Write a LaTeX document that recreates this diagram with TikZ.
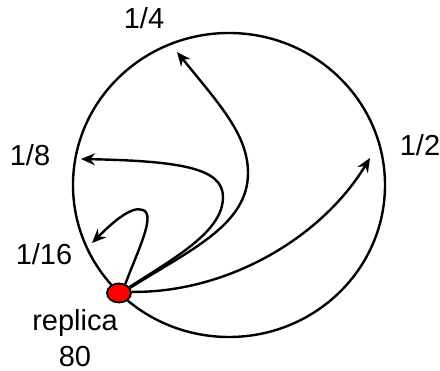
\documentclass[tikz,border=0pt]{standalone}
\usepackage{fontspec}
\setmainfont{Liberation Sans}
\usetikzlibrary{arrows.meta,shapes.geometric}
\begin{document}
\begin{tikzpicture}[x=1pt,y=-1pt,
  ring/.style={line width=2.4pt},
  link/.style={line width=2.4pt,-{Stealth[length=14pt,width=12pt]}},
  lbl/.style={font=\fontsize{29}{36}\selectfont,inner sep=0pt,align=center},
  replica/.style={ellipse,draw=black,line width=1.8pt,fill=red,minimum width=24pt,minimum height=19pt,inner sep=0pt}]
\useasboundingbox (0,0) rectangle (440,371);
\draw[ring] (229,185) ellipse [x radius=156, y radius=152];
\node[replica] (dot) at (119,293) {};
\coordinate (t2) at (370,158);
\coordinate (t4) at (177,52);
\coordinate (t8) at (81,159);
\coordinate (t16) at (92,243);
\draw[link] (dot.5) .. controls (225,293) and (320,240) .. (t2);
\draw[link] (dot.25) .. controls (190,250) and (248,225) .. (248,173) .. controls (248,135) and (220,105) .. (t4);
\draw[link] (dot.30) .. controls (180,255) and (223,230) .. (223,197) .. controls (223,168) and (180,161) .. (t8);
\draw[link] (dot.55) .. controls (138,250) and (156,215) .. (143,210) .. controls (131,205) and (110,225) .. (t16);
\node[lbl] (l4) at (144,18) {1/4};
\node[lbl] (l2) at (420,145) {1/2};
\node[lbl] (l8) at (30,155) {1/8};
\node[lbl] (l16) at (44,254) {1/16};
\node[lbl] (lr) at (75,338) {replica\\80};
\end{tikzpicture}
\end{document}
